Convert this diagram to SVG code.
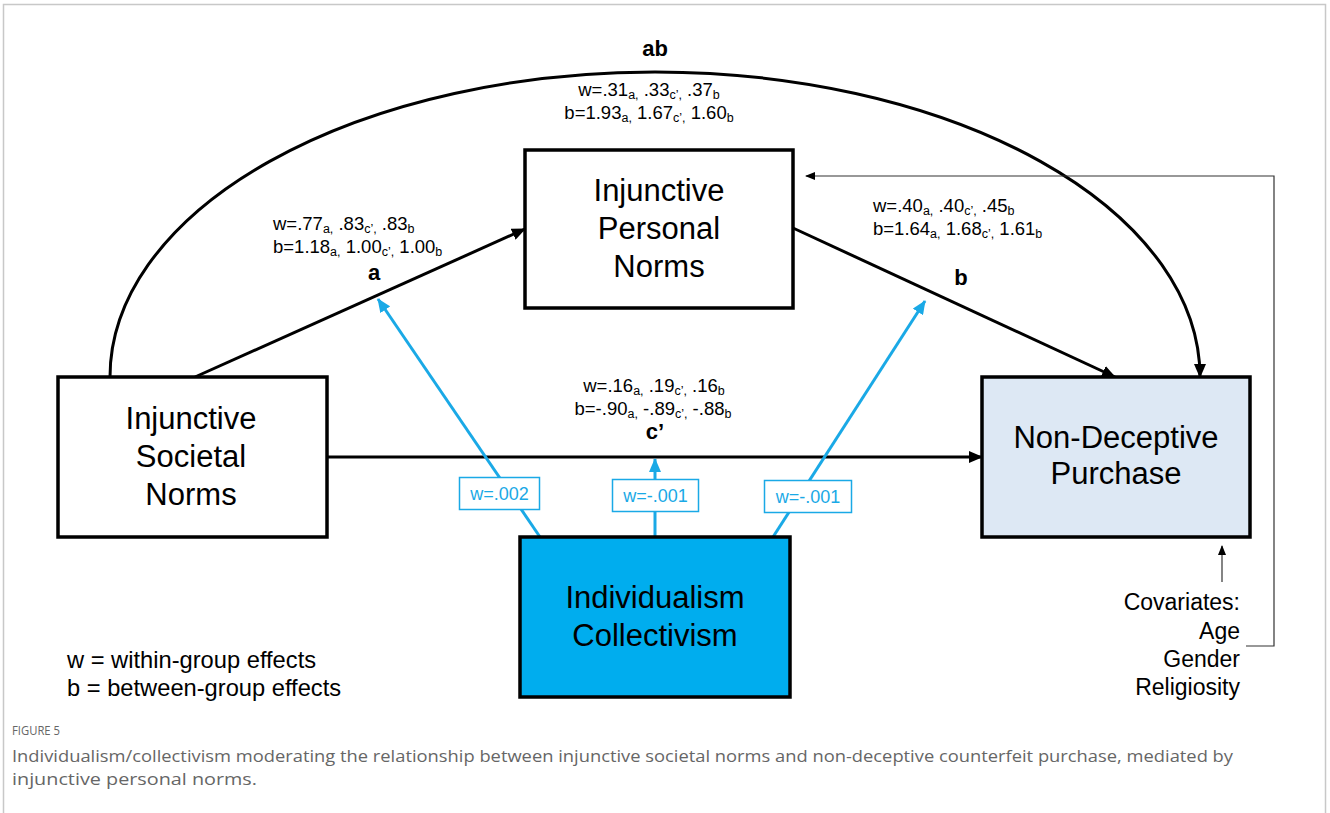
<svg xmlns="http://www.w3.org/2000/svg" width="1330" height="813" viewBox="0 0 1330 813">
<style>
.node{stroke:#000;stroke-width:3.5}
.nt{font-family:"Liberation Sans",Arial,sans-serif;font-size:31px;fill:#000;text-anchor:middle}
.st{font-family:"Liberation Sans",Arial,sans-serif;font-size:18.5px;fill:#000}
.sub{font-size:12.5px}
.bl{font-family:"Liberation Sans",Arial,sans-serif;font-size:22px;font-weight:bold;fill:#000;text-anchor:middle}
.conn{fill:none;stroke:#000;stroke-width:3}
.thin{fill:none;stroke:#333;stroke-width:1.2}
.mod{fill:none;stroke:#1aa9e6;stroke-width:3}
.lab{fill:#fff;stroke:#1aa9e6;stroke-width:1.5}
.lt{font-family:"Liberation Sans",Arial,sans-serif;font-size:18px;fill:#1aa9e6;text-anchor:middle}
.leg{font-family:"Liberation Sans",Arial,sans-serif;font-size:23.7px;fill:#000}
.cov{font-family:"Liberation Sans",Arial,sans-serif;font-size:23px;fill:#000;text-anchor:end}
.cap{font-family:"Open Sans","Noto Sans",sans-serif;fill:#666}
</style>
<defs>
<marker id="ah" markerUnits="userSpaceOnUse" markerWidth="14" markerHeight="12" refX="13" refY="6" orient="auto"><path d="M0,0 L14,6 L0,12 z" fill="#000"/></marker>
<marker id="ahs" markerUnits="userSpaceOnUse" markerWidth="10" markerHeight="8" refX="9" refY="4" orient="auto"><path d="M0,0 L10,4 L0,8 z" fill="#000"/></marker>
<marker id="ahb" markerUnits="userSpaceOnUse" markerWidth="14" markerHeight="12" refX="13" refY="6" orient="auto"><path d="M0,0 L14,6 L0,12 z" fill="#1aa9e6"/></marker>
</defs>
<rect x="3.5" y="4.5" width="1322" height="900" fill="#fff" stroke="#c8c8c8" stroke-width="1.5"/>

<g id="connectors">
<path class="conn" d="M110,377 A545,305 0 0 1 1200,377" marker-end="url(#ah)"/>
<line class="conn" x1="195" y1="377" x2="525" y2="229" marker-end="url(#ah)"/>
<line class="conn" x1="793" y1="228" x2="1115" y2="377" marker-end="url(#ah)"/>
<line class="conn" x1="327" y1="457" x2="982" y2="457" marker-end="url(#ah)"/>
<polyline class="thin" points="1246,646 1274,646 1274,176 806,176" marker-end="url(#ahs)"/>
<line class="thin" x1="1222" y1="582" x2="1222" y2="546" marker-end="url(#ahs)"/>
<line class="mod" x1="540" y1="537" x2="378" y2="299" marker-end="url(#ahb)"/>
<line class="mod" x1="655" y1="537" x2="655" y2="459" marker-end="url(#ahb)"/>
<line class="mod" x1="773" y1="537" x2="925" y2="301" marker-end="url(#ahb)"/>
<rect class="lab" x="459.5" y="477.5" width="80" height="32"/>
<text class="lt" x="499.5" y="500">w=.002</text>
<rect class="lab" x="612.5" y="479.5" width="86" height="32"/>
<text class="lt" x="655.5" y="502">w=-.001</text>
<rect class="lab" x="764.5" y="480.5" width="87" height="32"/>
<text class="lt" x="808" y="503">w=-.001</text>
</g>

<g id="societal">
<rect class="node" x="58" y="377" width="269" height="160" fill="#fff"/>
<text class="nt" x="191" y="429">Injunctive</text>
<text class="nt" x="191" y="467">Societal</text>
<text class="nt" x="191" y="505">Norms</text>
</g>
<g id="personal">
<rect class="node" x="525" y="150" width="268" height="158" fill="#fff"/>
<text class="nt" x="659" y="201">Injunctive</text>
<text class="nt" x="659" y="239">Personal</text>
<text class="nt" x="659" y="277">Norms</text>
</g>
<g id="purchase">
<rect class="node" x="982" y="377" width="268" height="160" fill="#dde8f4"/>
<text class="nt" x="1116" y="448">Non-Deceptive</text>
<text class="nt" x="1116" y="484">Purchase</text>
</g>
<g id="individualism">
<rect class="node" x="520" y="537" width="270" height="160" fill="#00adee"/>
<text class="nt" x="655" y="608">Individualism</text>
<text class="nt" x="655" y="646">Collectivism</text>
</g>

<g id="labels">
<text class="bl" x="655" y="56">ab</text>
<text class="st" x="649" y="96" text-anchor="middle">w=.31<tspan class="sub" dy="3">a,</tspan><tspan dy="-3"> .33</tspan><tspan class="sub" dy="3">c’,</tspan><tspan dy="-3"> .37</tspan><tspan class="sub" dy="3">b</tspan></text>
<text class="st" x="649" y="119" text-anchor="middle">b=1.93<tspan class="sub" dy="3">a,</tspan><tspan dy="-3"> 1.67</tspan><tspan class="sub" dy="3">c’,</tspan><tspan dy="-3"> 1.60</tspan><tspan class="sub" dy="3">b</tspan></text>

<text class="st" x="273" y="230">w=.77<tspan class="sub" dy="3">a,</tspan><tspan dy="-3"> .83</tspan><tspan class="sub" dy="3">c’,</tspan><tspan dy="-3"> .83</tspan><tspan class="sub" dy="3">b</tspan></text>
<text class="st" x="273" y="253">b=1.18<tspan class="sub" dy="3">a,</tspan><tspan dy="-3"> 1.00</tspan><tspan class="sub" dy="3">c’,</tspan><tspan dy="-3"> 1.00</tspan><tspan class="sub" dy="3">b</tspan></text>
<text class="bl" x="374" y="280">a</text>

<text class="st" x="873" y="212">w=.40<tspan class="sub" dy="3">a,</tspan><tspan dy="-3"> .40</tspan><tspan class="sub" dy="3">c’,</tspan><tspan dy="-3"> .45</tspan><tspan class="sub" dy="3">b</tspan></text>
<text class="st" x="873" y="235">b=1.64<tspan class="sub" dy="3">a,</tspan><tspan dy="-3"> 1.68</tspan><tspan class="sub" dy="3">c’,</tspan><tspan dy="-3"> 1.61</tspan><tspan class="sub" dy="3">b</tspan></text>
<text class="bl" x="961" y="285">b</text>

<text class="st" x="654" y="392" text-anchor="middle">w=.16<tspan class="sub" dy="3">a,</tspan><tspan dy="-3"> .19</tspan><tspan class="sub" dy="3">c’,</tspan><tspan dy="-3"> .16</tspan><tspan class="sub" dy="3">b</tspan></text>
<text class="st" x="653" y="415" text-anchor="middle">b=-.90<tspan class="sub" dy="3">a,</tspan><tspan dy="-3"> -.89</tspan><tspan class="sub" dy="3">c’,</tspan><tspan dy="-3"> -.88</tspan><tspan class="sub" dy="3">b</tspan></text>
<text class="bl" x="655" y="439">c’</text>

<text class="leg" x="67" y="668">w = within-group effects</text>
<text class="leg" x="67" y="696">b = between-group effects</text>

<text class="cov" x="1240" y="610">Covariates:</text>
<text class="cov" x="1240" y="639">Age</text>
<text class="cov" x="1240" y="667">Gender</text>
<text class="cov" x="1240" y="695">Religiosity</text>
</g>

<g id="caption">
<text class="cap" x="12" y="735" font-size="12" textLength="48" lengthAdjust="spacingAndGlyphs">FIGURE 5</text>
<text class="cap" x="12" y="762" font-size="16.5" textLength="1221" lengthAdjust="spacingAndGlyphs">Individualism/collectivism moderating the relationship between injunctive societal norms and non-deceptive counterfeit purchase, mediated by</text>
<text class="cap" x="12" y="785" font-size="16.5" textLength="245" lengthAdjust="spacingAndGlyphs">injunctive personal norms.</text>
</g>
</svg>
